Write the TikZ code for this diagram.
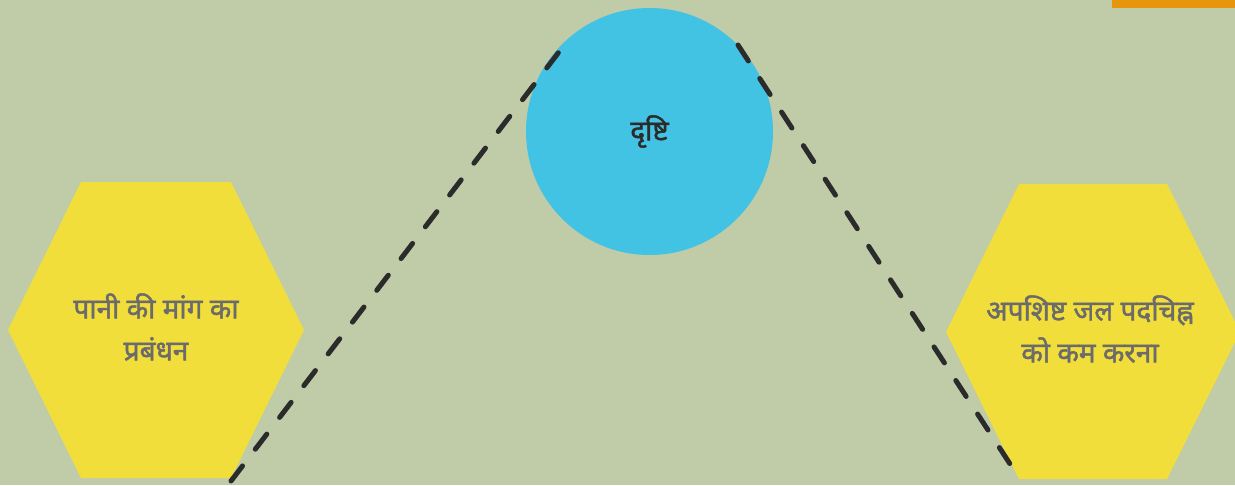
\documentclass[tikz,border=0pt]{standalone}
\usepackage{fontspec}
\newfontfamily\hindi[Script=Devanagari, FakeBold=1.6]{Noto Sans}
\definecolor{bgc}{HTML}{C0CCA8}
\definecolor{hexc}{HTML}{F2DE3A}
\definecolor{circc}{HTML}{42C3E3}
\definecolor{barc}{HTML}{E6950C}
\definecolor{greyt}{HTML}{6B6B6B}
\definecolor{darkt}{HTML}{2B2B2B}
\tikzset{
  hexfill/.style={fill=hexc},
  hextext/.style={font=\hindi\fontsize{28}{42}\selectfont, text=greyt, align=center, inner sep=0},
  link/.style={draw=darkt, line width=5, line cap=round, dash pattern=on 19 off 21},
}
\begin{document}
\begin{tikzpicture}[x=1pt,y=-1pt]
\useasboundingbox (0,0) rectangle (1235,485);
\clip (0,0) rectangle (1235,485);
\fill[bgc] (0,0) rectangle (1235,485);
\fill[barc] (1112,0) rectangle (1235,8);
% hexagons
\fill[hexfill] (8,330) -- (81,182) -- (231,182) -- (304,330) -- (231,478) -- (81,478) -- cycle;
\fill[hexfill] (946,332) -- (1019,184) -- (1167,184) -- (1240,332) -- (1167,479) -- (1019,479) -- cycle;
\node[hextext] (demand) at (156,327) {पानी की मांग का\\प्रबंधन};
\node[hextext] (waste) at (1090,329) {अपशिष्ट जल पदचिह्न\\को कम करना};
% circle
\node[circle, fill=circc, minimum size=247, inner sep=0, font=\hindi\fontsize{28}{30}\selectfont, text=darkt] (vision) at (649.5,131.5) {दृष्टि};
% dashed connectors
\coordinate (l1a) at (231,481);
\coordinate (l1b) at (562,48);
\coordinate (l2a) at (738,45);
\coordinate (l2b) at (1012,467);
\draw[link] (l1a) -- (l1b);
\draw[link] (l2a) -- (l2b);
\end{tikzpicture}
\end{document}
